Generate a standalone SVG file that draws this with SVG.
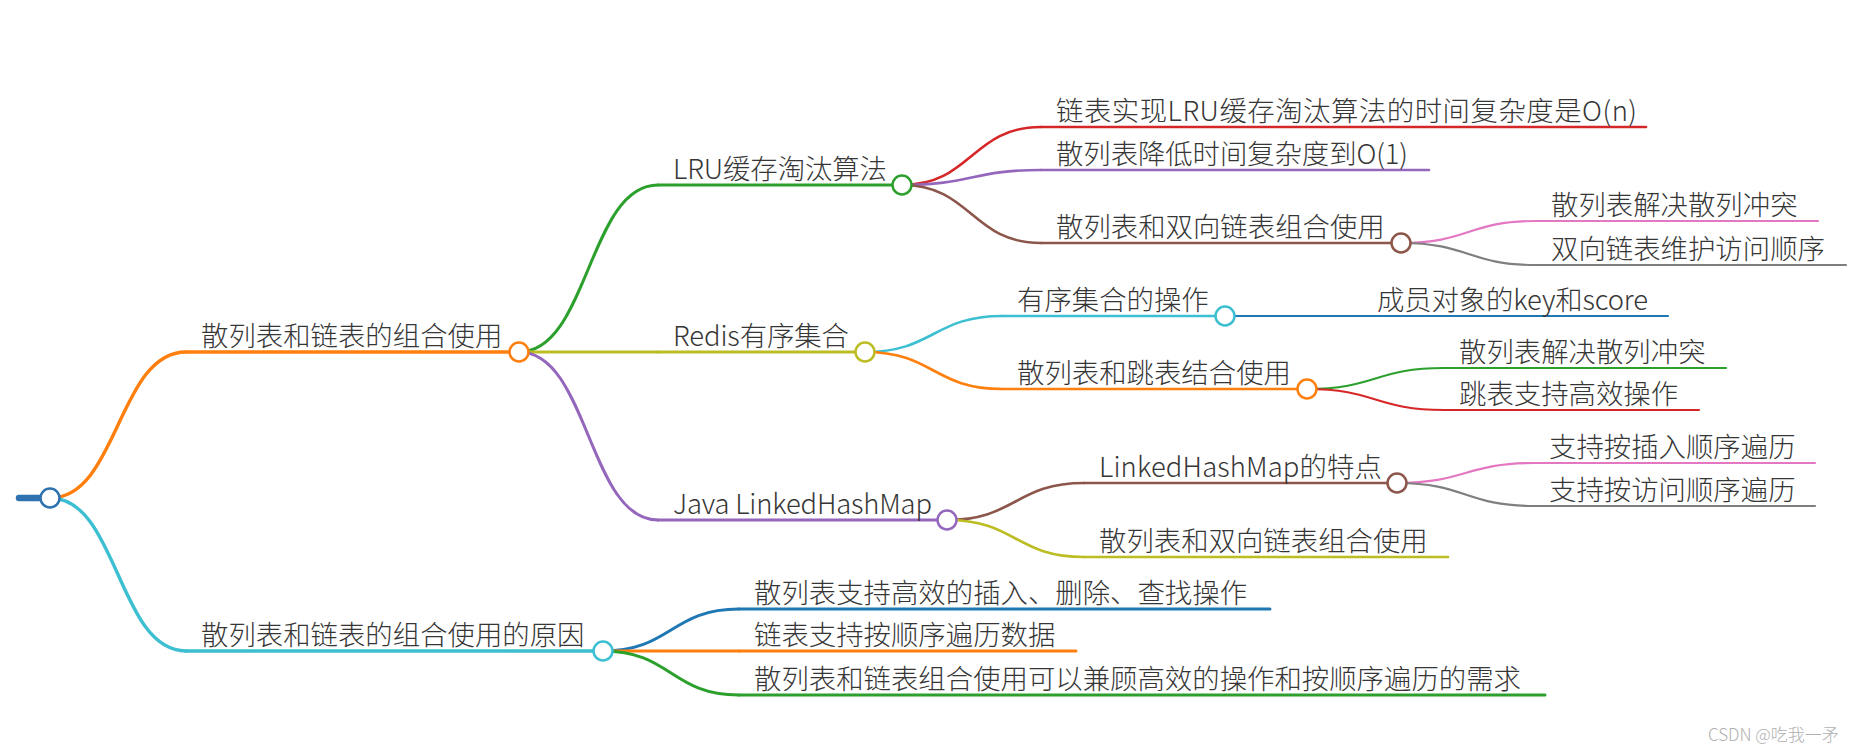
<svg xmlns="http://www.w3.org/2000/svg" width="1859" height="754" viewBox="0 0 1859 754">
<style>
text{font-family:"Noto Sans CJK SC Light","Noto Sans CJK SC DemiLight","Noto Sans CJK SC","Noto Sans",sans-serif;font-size:27.4px;font-weight:300;fill:#363636}
.wm{font-size:17px;fill:#b0b0b0;font-weight:400}
path,line{fill:none;stroke-linecap:round}
circle{fill:#fff;stroke-width:2.5}
.d1{stroke-width:3.4}.d2{stroke-width:3}.d3{stroke-width:2.6}.d4{stroke-width:2.2}
.blue{stroke:#1f77b4}.orange{stroke:#ff7f0e}.green{stroke:#2ca02c}.red{stroke:#d62728}.purple{stroke:#9467bd}.brown{stroke:#8c564b}.pink{stroke:#e377c2}.gray{stroke:#7f7f7f}.olive{stroke:#bcbd22}.cyan{stroke:#3dbfd2}
</style>
<rect width="1859" height="754" fill="#fff"/>
<g id="connectors">
<path class="d1 orange" d="M50,498 C118,498 118,352 186,352"/>
<path class="d1 cyan" d="M50,498 C118,498 118,651 186,651"/>
<path class="d2 green" d="M519,352 C588.5,352 588.5,185 658,185"/>
<path class="d2 olive" d="M519,352 L658,352"/>
<path class="d2 purple" d="M519,352 C588.5,352 588.5,520 658,520"/>
<path class="d2 blue" d="M603,651 C671,651 671,609 739,609"/>
<path class="d2 orange" d="M603,651 L739,651"/>
<path class="d2 green" d="M603,651 C671,651 671,695 739,695"/>
<path class="d3 red" d="M902,185 C971.5,185 971.5,127 1041,127"/>
<path class="d3 purple" d="M902,185 C971.5,185 971.5,170 1041,170"/>
<path class="d3 brown" d="M902,185 C971.5,185 971.5,243 1041,243"/>
<path class="d4 pink" d="M1401,243 C1468.5,243 1468.5,221 1536,221"/>
<path class="d4 gray" d="M1401,243 C1468.5,243 1468.5,265 1536,265"/>
<path class="d3 cyan" d="M865,352 C933.5,352 933.5,316 1002,316"/>
<path class="d3 orange" d="M865,352 C933.5,352 933.5,389 1002,389"/>
<path class="d4 blue" d="M1225,316 L1362,316"/>
<path class="d4 green" d="M1307,389 C1375.5,389 1375.5,368 1444,368"/>
<path class="d4 red" d="M1307,389 C1375.5,389 1375.5,410 1444,410"/>
<path class="d3 brown" d="M947,520 C1015.5,520 1015.5,483 1084,483"/>
<path class="d3 olive" d="M947,520 C1015.5,520 1015.5,557 1084,557"/>
<path class="d4 pink" d="M1397,483 C1465.5,483 1465.5,463 1534,463"/>
<path class="d4 gray" d="M1397,483 C1465.5,483 1465.5,506 1534,506"/>
</g>
<g id="root">
<line x1="19" y1="498" x2="41" y2="498" stroke="#2f72b0" stroke-width="6.5" stroke-linecap="butt"/>
<circle stroke="#2f72b0" cx="50" cy="498" r="9.5"/>
</g>
<g id="n-a">
<line class="d1 orange" x1="186" y1="352" x2="519" y2="352"/>
<text x="201" y="346">散列表和链表的组合使用</text>
<circle class="orange" cx="519" cy="352" r="9.5"/>
</g>
<g id="n-b">
<line class="d1 cyan" x1="186" y1="651" x2="603" y2="651"/>
<text x="201" y="645">散列表和链表的组合使用的原因</text>
<circle class="cyan" cx="603" cy="651" r="9.5"/>
</g>
<g id="n-lru">
<line class="d2 green" x1="658" y1="185" x2="902" y2="185"/>
<text x="673" y="179" textLength="214">LRU缓存淘汰算法</text>
<circle class="green" cx="902" cy="185" r="9.5"/>
</g>
<g id="n-lru-1">
<line class="d3 red" x1="1041" y1="127" x2="1646" y2="127"/>
<text x="1056" y="121" textLength="581">链表实现LRU缓存淘汰算法的时间复杂度是O(n)</text>
</g>
<g id="n-lru-2">
<line class="d3 purple" x1="1041" y1="170" x2="1429" y2="170"/>
<text x="1056" y="164" textLength="352">散列表降低时间复杂度到O(1)</text>
</g>
<g id="n-lru-3">
<line class="d3 brown" x1="1041" y1="243" x2="1401" y2="243"/>
<text x="1056" y="237">散列表和双向链表组合使用</text>
<circle class="brown" cx="1401" cy="243" r="9.5"/>
</g>
<g id="n-lru-3-1">
<line class="d4 pink" x1="1536" y1="221" x2="1818" y2="221"/>
<text x="1551" y="215">散列表解决散列冲突</text>
</g>
<g id="n-lru-3-2">
<line class="d4 gray" x1="1536" y1="265" x2="1846" y2="265"/>
<text x="1551" y="259">双向链表维护访问顺序</text>
</g>
<g id="n-redis">
<line class="d2 olive" x1="658" y1="352" x2="865" y2="352"/>
<text x="673" y="346" textLength="176">Redis有序集合</text>
<circle class="olive" cx="865" cy="352" r="9.5"/>
</g>
<g id="n-redis-1">
<line class="d3 cyan" x1="1002" y1="316" x2="1225" y2="316"/>
<text x="1017" y="310">有序集合的操作</text>
<circle class="cyan" cx="1225" cy="316" r="9.5"/>
</g>
<g id="n-redis-1-1">
<line class="d4 blue" x1="1362" y1="316" x2="1668" y2="316"/>
<text x="1377" y="310" textLength="271">成员对象的key和score</text>
</g>
<g id="n-redis-2">
<line class="d3 orange" x1="1002" y1="389" x2="1307" y2="389"/>
<text x="1017" y="383">散列表和跳表结合使用</text>
<circle class="orange" cx="1307" cy="389" r="9.5"/>
</g>
<g id="n-redis-2-1">
<line class="d4 green" x1="1444" y1="368" x2="1726" y2="368"/>
<text x="1459" y="362">散列表解决散列冲突</text>
</g>
<g id="n-redis-2-2">
<line class="d4 red" x1="1444" y1="410" x2="1699" y2="410"/>
<text x="1459" y="404">跳表支持高效操作</text>
</g>
<g id="n-java">
<line class="d2 purple" x1="658" y1="520" x2="947" y2="520"/>
<text x="673" y="514" textLength="259">Java LinkedHashMap</text>
<circle class="purple" cx="947" cy="520" r="9.5"/>
</g>
<g id="n-java-1">
<line class="d3 brown" x1="1084" y1="483" x2="1397" y2="483"/>
<text x="1099" y="477" textLength="283">LinkedHashMap的特点</text>
<circle class="brown" cx="1397" cy="483" r="9.5"/>
</g>
<g id="n-java-1-1">
<line class="d4 pink" x1="1534" y1="463" x2="1815" y2="463"/>
<text x="1549" y="457">支持按插入顺序遍历</text>
</g>
<g id="n-java-1-2">
<line class="d4 gray" x1="1534" y1="506" x2="1815" y2="506"/>
<text x="1549" y="500">支持按访问顺序遍历</text>
</g>
<g id="n-java-2">
<line class="d3 olive" x1="1084" y1="557" x2="1448" y2="557"/>
<text x="1099" y="551">散列表和双向链表组合使用</text>
</g>
<g id="n-b-1">
<line class="d2 blue" x1="739" y1="609" x2="1270" y2="609"/>
<text x="754" y="603">散列表支持高效的插入、删除、查找操作</text>
</g>
<g id="n-b-2">
<line class="d2 orange" x1="739" y1="651" x2="1076" y2="651"/>
<text x="754" y="645">链表支持按顺序遍历数据</text>
</g>
<g id="n-b-3">
<line class="d2 green" x1="739" y1="695" x2="1545" y2="695"/>
<text x="754" y="689">散列表和链表组合使用可以兼顾高效的操作和按顺序遍历的需求</text>
</g>
<text class="wm" x="1708" y="741">CSDN @吃我一矛</text>
</svg>
